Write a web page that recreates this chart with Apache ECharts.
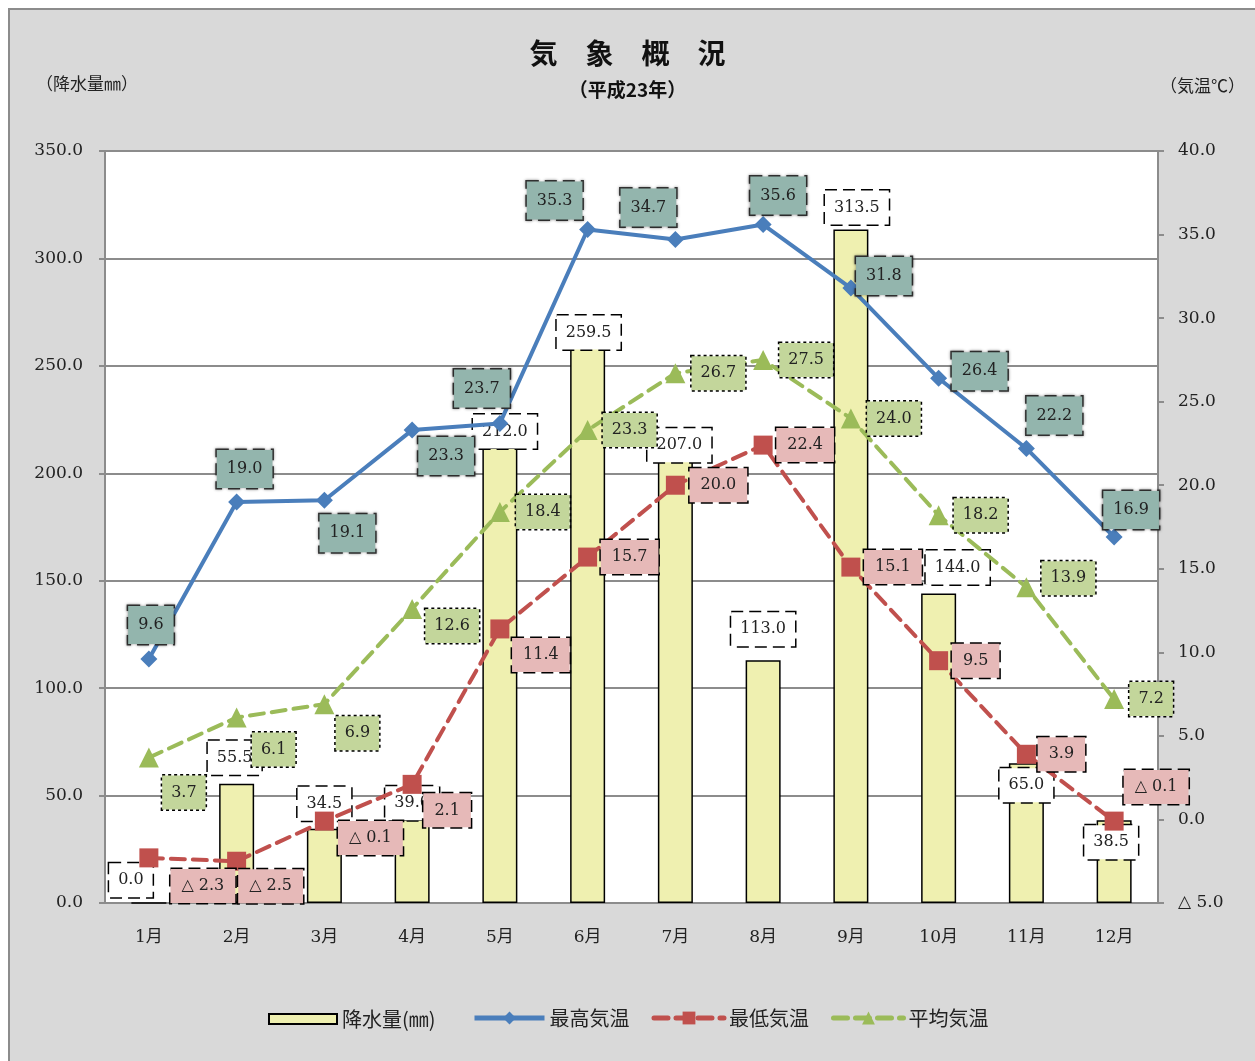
<!DOCTYPE html>
<html>
<head>
<meta charset="utf-8">
<script src="https://cdn.jsdelivr.net/npm/echarts@6/dist/echarts.min.js"></script>
<style>
  body { margin: 0; background: #fff; }
  #bg { position: absolute; left: 8px; top: 8px; right: 0; bottom: 0; background: #d9d9d9;
        border-left: 2px solid #8c8c8c; border-top: 2px solid #8c8c8c; }
  #main { position: absolute; left: 0; top: 0; width: 1255px; height: 1061px; }
</style>
</head>
<body>
<div id="bg"></div>
<div id="main"></div>
<script>
// data (平成23年)
const months = ['1月', '2月', '3月', '4月', '5月', '6月', '7月', '8月', '9月', '10月', '11月', '12月'];
const precip = [0.0, 55.5, 34.5, 39.0, 212.0, 259.5, 207.0, 113.0, 313.5, 144.0, 65.0, 38.5];
const maxTemp = [9.6, 19.0, 19.1, 23.3, 23.7, 35.3, 34.7, 35.6, 31.8, 26.4, 22.2, 16.9];
const minTemp = [-2.3, -2.5, -0.1, 2.1, 11.4, 15.7, 20.0, 22.4, 15.1, 9.5, 3.9, -0.1];
const avgTemp = [3.7, 6.1, 6.9, 12.6, 18.4, 23.3, 26.7, 27.5, 24.0, 18.2, 13.9, 7.2];

// label offsets (px) from each mark, to put the boxes where the original has them
const precipOff = [[-18, -22], [-2, -26], [0, -25], [0, -16], [5, -16], [1, -13], [4, -13], [0, -31], [6, -22], [19, -26], [0, 22], [-3, 22]];
const maxOff = [[2, -34], [8, -33], [23, 33], [34, 26], [-18, -35], [-33, -29], [-27, -32], [15, -29], [33, -12], [41, -7], [28, -33], [17, -27]];
const minOff = [[54, 28], [34, 25], [46, 17], [35, 26], [41, 26], [42, 0], [43, 0], [42, 0], [42, 0], [37, 0], [35, 0], [42, -34]];
const avgOff = [[35, 35], [37, 32], [33, 29], [40, 17], [43, 0], [42, 0], [43, 0], [43, 0], [43, 0], [42, 0], [42, -9], [37, 0]];

const SERIF = 'DejaVu Serif, "Noto Sans CJK JP", serif';
const CJK = '"Noto Sans CJK JP", sans-serif';
const GRAY = '#8c8c8c';

function fmt(v) {
  return v < 0 ? '△ ' + Math.abs(v).toFixed(1) : v.toFixed(1);
}

function boxLabel(bg, border, borderType, extra) {
  return Object.assign({
    show: true,
    formatter: (p) => fmt(p.value),
    fontFamily: SERIF,
    fontSize: 16,
    lineHeight: 20,
    color: '#222',
    backgroundColor: bg,
    borderColor: border,
    borderWidth: 1.5,
    borderType: borderType,
    padding: [7, 9],
  }, extra || {});
}

const BOX_H = 34;
const precipData = precip.map((v, i) => ({
  value: v,
  label: { offset: [precipOff[i][0], precipOff[i][1] + BOX_H / 2] },
}));
const withOff = (vals, offs) => vals.map((v, i) => ({ value: v, label: { offset: offs[i] } }));

const chart = echarts.init(document.getElementById('main'));
const option = {
  backgroundColor: 'transparent',
  animation: false,
  title: [{
    text: '気　象　概　況',
    left: 'center',
    top: 34,
    textStyle: { fontFamily: CJK, fontSize: 28, fontWeight: 'bold', color: '#111' },
  }, {
    text: '（平成23年）',
    left: 'center',
    top: 75,
    textStyle: { fontFamily: CJK, fontSize: 19, fontWeight: 'bold', color: '#111' },
  }],
  graphic: [{
    type: 'text', left: 36, top: 75,
    style: { text: '（降水量㎜）', font: '17px ' + CJK, fill: '#222' },
  }, {
    type: 'text', right: 10, top: 77,
    style: { text: '（気温℃）', font: '17px ' + CJK, fill: '#222' },
  }],
  legend: [{
    left: 263,
    top: 1004,
    itemWidth: 68,
    itemHeight: 10,
    itemGap: 20,
    textStyle: { fontFamily: CJK, fontSize: 20, color: '#222' },
    data: [{ name: '降水量(㎜)', icon: 'rect' }],
  }, {
    left: 467,
    top: 1003,
    itemWidth: 70,
    itemHeight: 16,
    itemGap: 22,
    lineStyle: { width: 5 },
    textStyle: { fontFamily: CJK, fontSize: 20, color: '#222' },
    data: ['最高気温', '最低気温', '平均気温'],
  }],
  grid: {
    left: 105, right: 97, top: 151, bottom: 158,
    show: true, backgroundColor: '#fff', borderWidth: 0,
  },
  xAxis: {
    type: 'category',
    data: months,
    axisLine: { lineStyle: { color: GRAY, width: 2 } },
    axisTick: { length: 6, lineStyle: { color: GRAY, width: 2 } },
    axisLabel: { margin: 26, fontFamily: SERIF, fontSize: 17, color: '#222' },
  },
  yAxis: [{
    type: 'value',
    min: 0, max: 350, interval: 50,
    axisLine: { show: true, lineStyle: { color: GRAY, width: 2 } },
    axisTick: { show: true, length: 6, lineStyle: { color: GRAY, width: 2 } },
    splitLine: { lineStyle: { color: GRAY, width: 2 } },
    axisLabel: { margin: 22, fontFamily: SERIF, fontSize: 17, color: '#222', formatter: (v) => v.toFixed(1) },
  }, {
    type: 'value',
    min: -5, max: 40, interval: 5,
    axisLine: { show: true, lineStyle: { color: GRAY, width: 2 } },
    axisTick: { show: true, length: 6, lineStyle: { color: GRAY, width: 2 } },
    splitLine: { show: false },
    axisLabel: { margin: 20, fontFamily: SERIF, fontSize: 17, color: '#222', formatter: fmt },
  }],
  series: [{
    name: '降水量(㎜)',
    type: 'bar',
    barWidth: 35,
    data: precipData,
    itemStyle: { color: '#eff0b0', borderColor: '#000', borderWidth: 1.5 },
    label: boxLabel('#fff', '#000', 'dashed', { position: 'top', distance: 0 }),
  }, {
    name: '最高気温',
    type: 'line',
    yAxisIndex: 1,
    data: withOff(maxTemp, maxOff),
    symbol: 'diamond',
    symbolSize: 17,
    lineStyle: { color: '#4a7ebb', width: 4 },
    itemStyle: { color: '#4a7ebb' },
    label: boxLabel('#93b5ad', '#333', 'dashed', {
      position: 'inside', padding: [9, 10], shadowBlur: 3, shadowColor: 'rgba(0,0,0,0.45)',
    }),
  }, {
    name: '最低気温',
    type: 'line',
    yAxisIndex: 1,
    data: withOff(minTemp, minOff),
    symbol: 'rect',
    symbolSize: 19,
    lineStyle: { color: '#c0504d', width: 4, type: [14, 8], cap: 'round' },
    itemStyle: { color: '#c0504d' },
    label: boxLabel('#e6b9b8', '#000', 'dashed', { position: 'inside', padding: [7, 11] }),
  }, {
    name: '平均気温',
    type: 'line',
    yAxisIndex: 1,
    data: withOff(avgTemp, avgOff),
    symbol: 'triangle',
    symbolSize: 20,
    lineStyle: { color: '#9bbb59', width: 4, type: [14, 8], cap: 'round' },
    itemStyle: { color: '#9bbb59' },
    label: boxLabel('#c3d69b', '#000', 'dotted', { position: 'inside', padding: [7, 9] }),
  }],
};
chart.setOption(option);
</script>
</body>
</html>
